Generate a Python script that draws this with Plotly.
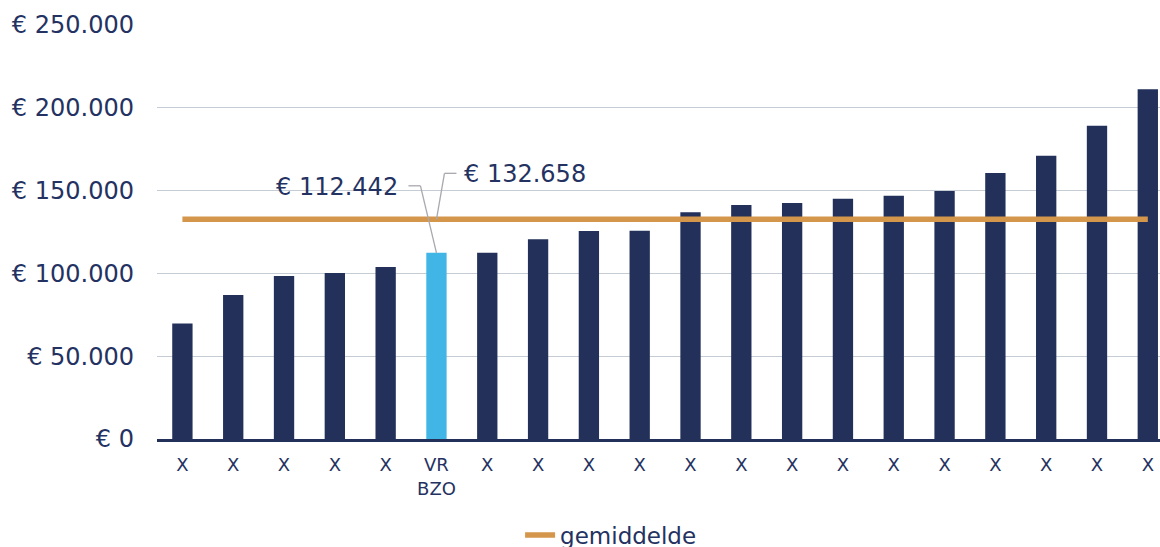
import plotly.graph_objects as go

categories = ["X", "X", "X", "X", "X", "VR<br>BZO", "X", "X", "X", "X",
              "X", "X", "X", "X", "X", "X", "X", "X", "X", "X"]
values = [69800, 86900, 98400, 100200, 103800, 112442, 112400, 120600, 125600, 125700,
          136900, 141300, 142500, 145100, 146900, 149800, 160600, 171100, 189200, 211200]
highlight_index = 5
average = 132658
y_ticks = [0, 50000, 100000, 150000, 200000, 250000]
y_tick_labels = ["€ 0", "€ 50.000", "€ 100.000", "€ 150.000", "€ 200.000", "€ 250.000"]
label_highlight = "€ 112.442"
label_average = "€ 132.658"
legend_name = "gemiddelde"

NAVY = "#22305A"
LIGHT = "#41B5E5"
GOLD = "#D4964A"
TEXT = "#243262"
FONT = "DejaVu Sans"

x = list(range(len(values)))
colors = [LIGHT if i == highlight_index else NAVY for i in x]

fig = go.Figure()
fig.add_trace(go.Bar(x=x, y=values, marker=dict(color=colors, line=dict(width=0)),
                     width=0.4, showlegend=False))
fig.add_trace(go.Scatter(x=x, y=[average] * len(x), mode="lines", name=legend_name,
                         line=dict(color=GOLD, width=5.5)))

# leader lines (pixel offsets from data anchor points)
leader = dict(color="#A8A8AE", width=1.3)
hv = values[highlight_index]
for (x0, y0, x1, y1) in [(0, 0, -16, 67), (-16, 67, -28, 67)]:
    fig.add_shape(type="line", xref="x", yref="y", xsizemode="pixel", ysizemode="pixel",
                  xanchor=highlight_index, yanchor=hv, x0=x0, y0=y0, x1=x1, y1=y1, line=leader)
for (x0, y0, x1, y1) in [(0, 0, 8, 46), (8, 46, 20, 46)]:
    fig.add_shape(type="line", xref="x", yref="y", xsizemode="pixel", ysizemode="pixel",
                  xanchor=highlight_index, yanchor=average, x0=x0, y0=y0, x1=x1, y1=y1, line=leader)

fig.add_annotation(x=highlight_index, y=hv, text=label_highlight, showarrow=False,
                   xanchor="right", yanchor="middle", xshift=-36, yshift=66,
                   font=dict(family=FONT, size=24, color=TEXT))
fig.add_annotation(x=highlight_index, y=average, text=label_average, showarrow=False,
                   xanchor="left", yanchor="middle", xshift=26, yshift=45,
                   font=dict(family=FONT, size=24, color=TEXT))

fig.update_layout(
    width=1160, height=561,
    margin=dict(l=157, r=0, t=25, b=122),
    paper_bgcolor="white", plot_bgcolor="white",
    font=dict(family=FONT, color=TEXT),
    bargap=0.6,
    legend=dict(orientation="h", x=0.362, xanchor="left", y=-0.284, yanchor="bottom",
                font=dict(family=FONT, size=23, color=TEXT), bgcolor="rgba(0,0,0,0)"),
    xaxis=dict(tickmode="array", tickvals=x, ticktext=categories,
               range=[-0.5, 19.24], showgrid=False, showline=True, linecolor=NAVY,
               linewidth=2.5, ticks="", ticklabelstandoff=8,
               tickfont=dict(family=FONT, size=18, color=TEXT), fixedrange=True),
    yaxis=dict(tickmode="array", tickvals=y_ticks, ticktext=y_tick_labels,
               range=[0, 250000], showgrid=True, gridcolor="#C6CCD4", gridwidth=1.3,
               zeroline=False, showline=False, ticks="", ticklabelstandoff=22,
               tickfont=dict(family=FONT, size=24, color=TEXT)),
)

fig.write_html("out.html", config={"displayModeBar": False},
               post_script="document.body.style.margin='0';document.body.style.overflow='hidden';")
